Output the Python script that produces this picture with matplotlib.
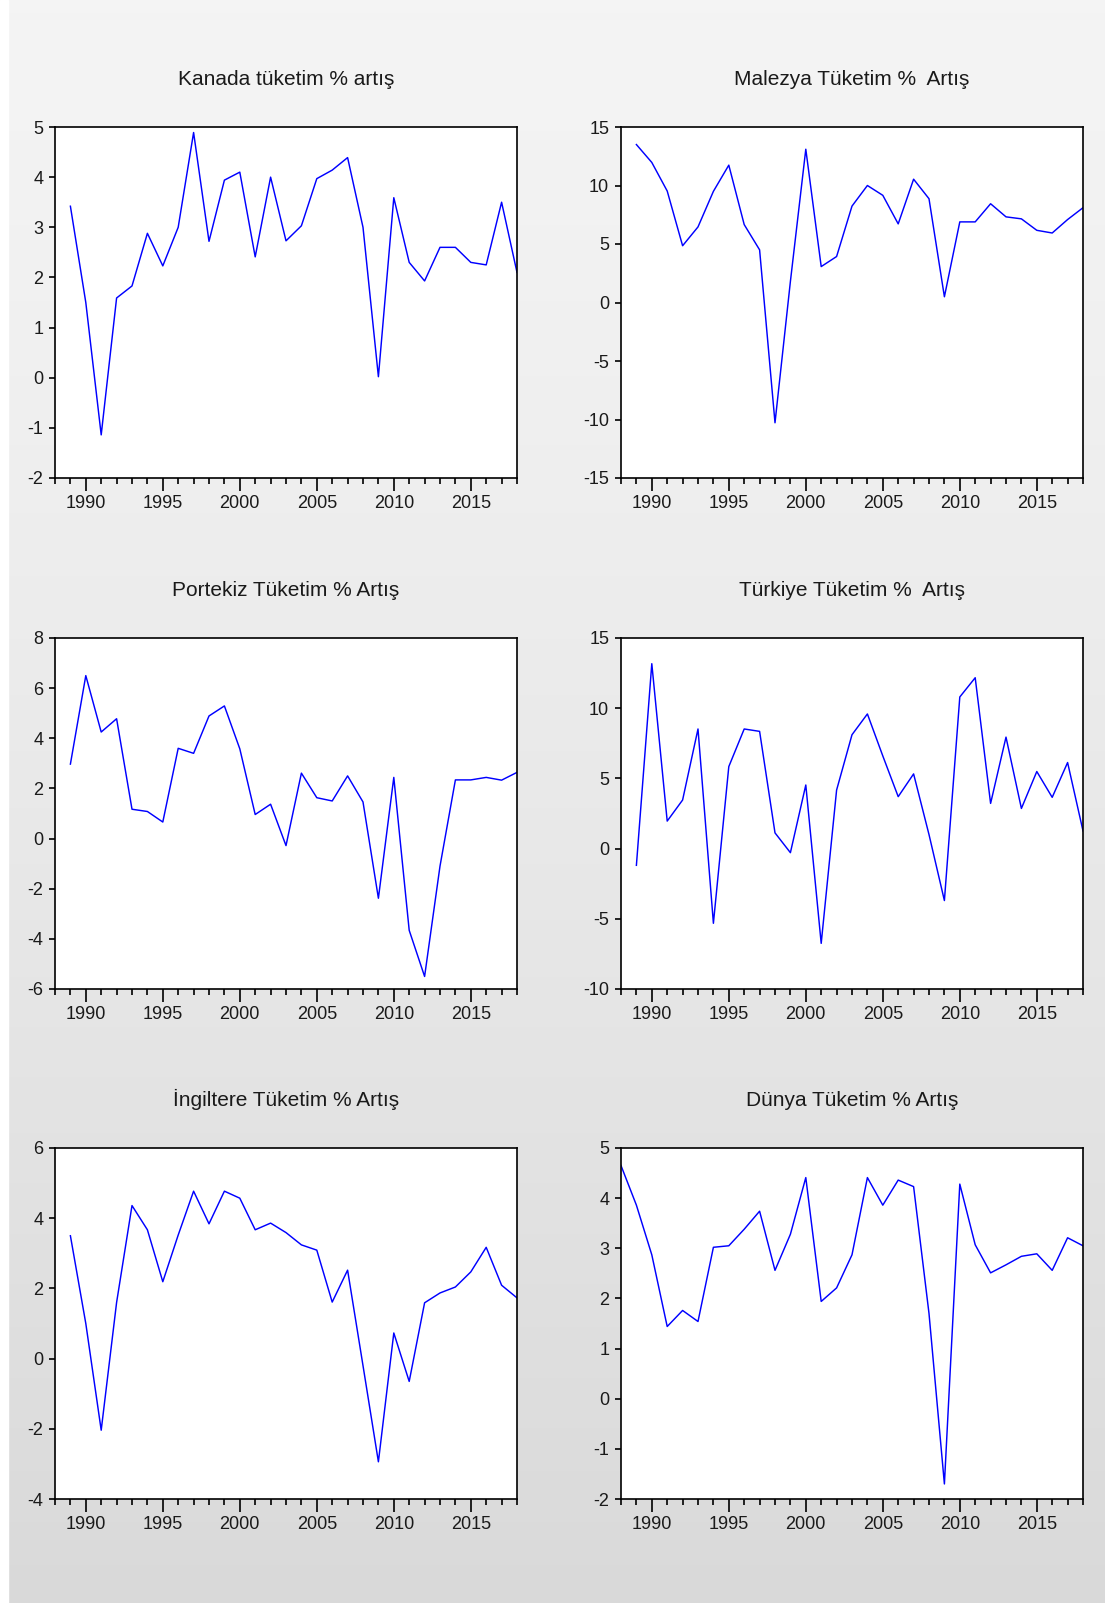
import numpy as np
import matplotlib
matplotlib.use('Agg')
import matplotlib.pyplot as plt
from matplotlib.ticker import MultipleLocator

plt.rcParams['font.family'] = ['Liberation Sans Narrow', 'Liberation Sans', 'DejaVu Sans']
plt.rcParams['axes.unicode_minus'] = False

# years
years = list(range(1989, 2019))
years_dunya = list(range(1988, 2019))

# series (% growth of consumption)
kanada = [3.42, 1.5, -1.14, 1.59, 1.83, 2.88, 2.23, 3.0, 4.89, 2.72,
          3.94, 4.1, 2.41, 4.0, 2.73, 3.03, 3.97, 4.14, 4.39, 3.0,
          0.02, 3.59, 2.3, 1.93, 2.6, 2.6, 2.3, 2.25, 3.5, 2.1]
malezya = [13.5, 11.97, 9.53, 4.85, 6.46, 9.5, 11.74, 6.66, 4.5, -10.28,
           1.8, 13.1, 3.07, 3.93, 8.24, 10.0, 9.16, 6.72, 10.54, 8.87,
           0.49, 6.89, 6.89, 8.44, 7.32, 7.15, 6.17, 5.94, 7.09, 8.1]
portekiz = [2.97, 6.5, 4.25, 4.78, 1.17, 1.08, 0.66, 3.6, 3.4, 4.89,
            5.29, 3.58, 0.96, 1.37, -0.28, 2.61, 1.63, 1.5, 2.5, 1.46,
            -2.38, 2.44, -3.66, -5.5, -1.1, 2.34, 2.34, 2.44, 2.33, 2.64]
turkiye = [-1.19, 13.17, 1.96, 3.46, 8.52, -5.32, 5.84, 8.52, 8.35, 1.12,
           -0.29, 4.53, -6.75, 4.17, 8.11, 9.59, 6.6, 3.7, 5.32, 1.0,
           -3.7, 10.8, 12.17, 3.22, 7.94, 2.86, 5.49, 3.65, 6.13, 1.26]
ingiltere = [3.5, 1.0, -2.04, 1.6, 4.36, 3.67, 2.19, 3.52, 4.77, 3.84,
             4.77, 4.57, 3.67, 3.86, 3.59, 3.24, 3.09, 1.61, 2.52, -0.2,
             -2.94, 0.73, -0.65, 1.59, 1.87, 2.04, 2.47, 3.17, 2.09, 1.73]
dunya = [4.65, 3.86, 2.87, 1.44, 1.76, 1.54, 3.02, 3.05, 3.38, 3.74,
         2.56, 3.28, 4.41, 1.94, 2.21, 2.87, 4.41, 3.86, 4.36, 4.23,
         1.7, -1.7, 4.28, 3.07, 2.51, 2.67, 2.84, 2.89, 2.56, 3.21, 3.05]

titles = ['Kanada tüketim % artış', 'Malezya Tüketim %  Artış',
          'Portekiz Tüketim % Artış', 'Türkiye Tüketim %  Artış',
          'İngiltere Tüketim % Artış', 'Dünya Tüketim % Artış']
series = [(years, kanada), (years, malezya), (years, portekiz),
          (years, turkiye), (years, ingiltere), (years_dunya, dunya)]
ylims = [(-2, 5), (-15, 15), (-6, 8), (-10, 15), (-4, 6), (-2, 5)]
ysteps = [1, 5, 2, 5, 2, 1]

W, H = 1105, 1603
fig = plt.figure(figsize=(W / 100, H / 100), dpi=100)

# grey gradient background with a thin white strip on the left
bg = fig.add_axes([0, 0, 1, 1], zorder=-10)
t = np.linspace(0, 1, 256).reshape(-1, 1)
g = 0.957 - 0.105 * t ** 1.3
bg.imshow(np.dstack([g, g, g]), aspect='auto', extent=[0, 1, 0, 1], origin='upper')
bg.axvspan(0, 8 / W, color='white')
bg.set_xlim(0, 1)
bg.set_ylim(0, 1)
bg.axis('off')

lefts = [55, 621]
tops = [127, 638, 1148]
aw, ah = 462, 351

for i, (title, (x, y), yl, ys) in enumerate(zip(titles, series, ylims, ysteps)):
    col = i % 2
    row = i // 2
    ax = fig.add_axes([lefts[col] / W, 1 - (tops[row] + ah) / H, aw / W, ah / H])
    ax.set_facecolor('white')
    ax.plot(x, y, color='#0000ff', lw=1.05)
    ax.set_xlim(1988, 2018)
    ax.set_ylim(*yl)
    ax.yaxis.set_major_locator(MultipleLocator(ys))
    ax.xaxis.set_minor_locator(MultipleLocator(1))
    ax.set_xticks([1990, 1995, 2000, 2005, 2010, 2015])
    for s in ax.spines.values():
        s.set_linewidth(1.2)
        s.set_color('black')
    ax.tick_params(axis='x', which='major', length=9, width=1.2, pad=3,
                   labelsize=13, colors='black', labelcolor='#1a1a1a')
    ax.tick_params(axis='x', which='minor', length=4.5, width=1.2)
    ax.tick_params(axis='y', which='major', length=4.5, width=1.2, pad=4,
                   labelsize=13, colors='black', labelcolor='#1a1a1a')
    ax.set_title(title, fontsize=15, pad=30, color='#1a1a1a')

fig.savefig('out.png', dpi=100)
